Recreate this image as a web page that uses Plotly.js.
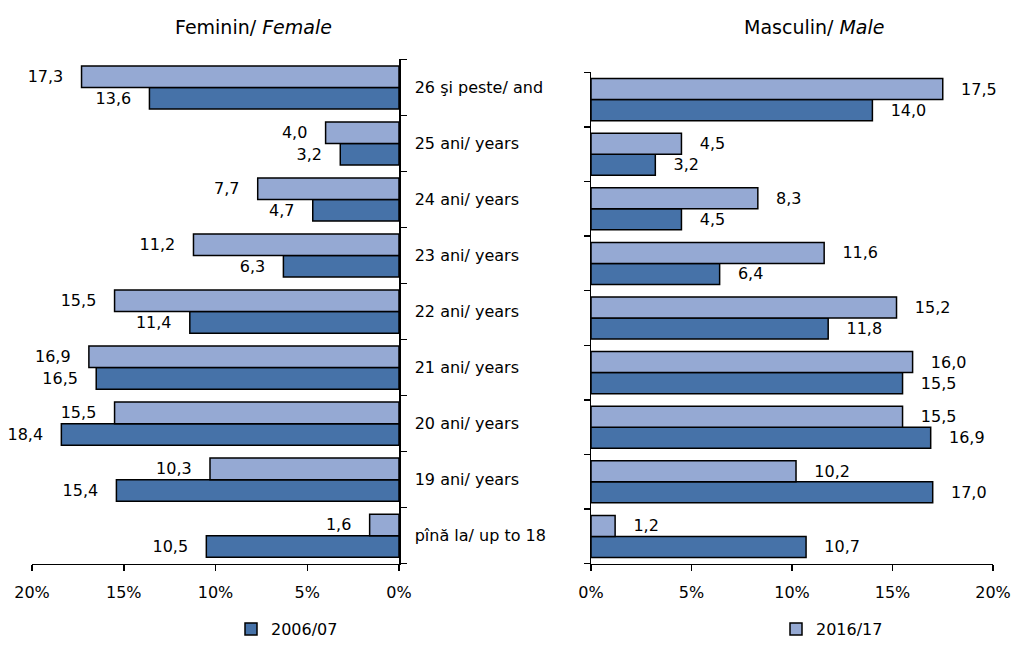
<!DOCTYPE html>
<html>
<head>
<meta charset="utf-8">
<script src="https://cdn.plot.ly/plotly-3.0.1.min.js"></script>
<style>html,body{margin:0;padding:0;background:#fff;}#chart{width:1015px;height:646px;}</style>
</head>
<body>
<div id="chart"></div>
<script>
const categories = ["pînă la/ up to 18","19 ani/ years","20 ani/ years","21 ani/ years","22 ani/ years","23 ani/ years","24 ani/ years","25 ani/ years","26 şi peste/ and"];
const female2006 = [10.5,15.4,18.4,16.5,11.4,6.3,4.7,3.2,13.6];
const female2016 = [1.6,10.3,15.5,16.9,15.5,11.2,7.7,4.0,17.3];
const male2006 = [10.7,17.0,16.9,15.5,11.8,6.4,4.5,3.2,14.0];
const male2016 = [1.2,10.2,15.5,16.0,15.2,11.6,8.3,4.5,17.5];
const xTicks = [0,5,10,15,20];

const DARK = "#4672A8", LIGHT = "#95A9D3";
const FONT = "DejaVu Sans, Liberation Sans, Arial, sans-serif";
const pad = "\u00a0\u00a0\u00a0";

function bar(x, name, color, xa, ya, left, legend, show) {
  return {
    type: "bar", orientation: "h", x: x, y: categories, name: name,
    xaxis: xa, yaxis: ya, legend: legend, showlegend: show,
    marker: {color: color, line: {color: "#000", width: 1.5}},
    texttemplate: left ? "%{x:.1f}" + pad : pad + "%{x:.1f}",
    textposition: "outside", cliponaxis: false,
    textfont: {family: FONT, size: 16, color: "#000"},
    hoverinfo: "x+y"
  };
}

const data = [
  bar(female2006, "2006/07", DARK, "x", "y", true, "legend", true),
  bar(female2016, "2016/17", LIGHT, "x", "y", true, "legend", false),
  bar(male2006, "2006/07", DARK, "x2", "y2", false, "legend2", false),
  bar(male2016, "2016/17", LIGHT, "x2", "y2", false, "legend2", true)
];

const xCommon = {
  range: [0, 20], tickvals: xTicks, ticktext: xTicks.map(v => v + "%"),
  ticks: "outside", ticklen: 6, tickcolor: "#000", tickwidth: 1.5,
  showline: true, linecolor: "#000", linewidth: 1.5, showgrid: false, zeroline: false,
  tickfont: {family: FONT, size: 16, color: "#000"}, fixedrange: true,
  ticklabelstandoff: 8
};
const yCommon = {
  type: "category", tickson: "boundaries", ticks: "outside", ticklen: 6,
  tickcolor: "#000", tickwidth: 1.5, showline: true, linecolor: "#000", linewidth: 1.5,
  showgrid: false, zeroline: false, fixedrange: true,
  tickfont: {family: FONT, size: 16, color: "#000"}
};

const layout = {
  width: 1015, height: 646,
  margin: {l: 0, r: 0, t: 0, b: 0},
  paper_bgcolor: "#fff", plot_bgcolor: "#fff",
  separators: ",.",
  barmode: "group", bargap: 0.23, bargroupgap: 0,
  font: {family: FONT, size: 16, color: "#000"},
  xaxis: Object.assign({}, xCommon, {domain: [32/1015, 399/1015], range: [20, 0], anchor: "y"}),
  xaxis2: Object.assign({}, xCommon, {domain: [591/1015, 993/1015], anchor: "y2"}),
  yaxis: Object.assign({}, yCommon, {domain: [1-569/646, 1-60/646], side: "right", anchor: "x", ticklabelstandoff: 11}),
  yaxis2: Object.assign({}, yCommon, {domain: [1-569/646, 1-73/646], side: "left", anchor: "x2", showticklabels: false}),
  legend: {x: 231/1015, y: 1-635/646, xanchor: "left", yanchor: "middle", orientation: "h",
           bgcolor: "rgba(0,0,0,0)", font: {family: FONT, size: 16}, itemwidth: 30},
  legend2: {x: 776/1015, y: 1-635/646, xanchor: "left", yanchor: "middle", orientation: "h",
           bgcolor: "rgba(0,0,0,0)", font: {family: FONT, size: 16}, itemwidth: 30},
  annotations: [
    {text: "Feminin/ <i>Female</i>", xref: "paper", yref: "paper", x: 253/1015, y: 1-27/646,
     xanchor: "center", yanchor: "middle", showarrow: false, font: {family: FONT, size: 19}},
    {text: "Masculin/ <i>Male</i>", xref: "paper", yref: "paper", x: 814/1015, y: 1-27/646,
     xanchor: "center", yanchor: "middle", showarrow: false, font: {family: FONT, size: 19}}
  ]
};

Plotly.newPlot("chart", data, layout, {displayModeBar: false, staticPlot: true});
</script>
</body>
</html>
